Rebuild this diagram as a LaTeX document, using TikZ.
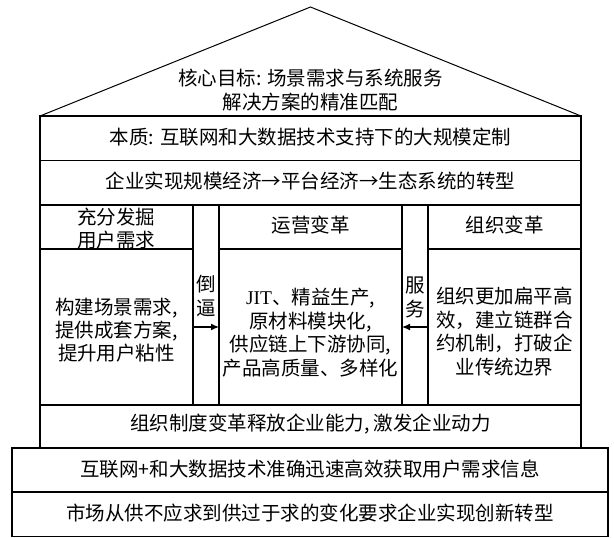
\documentclass[tikz,border=0pt]{standalone}
\usepackage{fontspec}
\setmainfont{Noto Sans CJK SC}
\newfontfamily\latf{Liberation Serif}
\usetikzlibrary{arrows.meta}
\begin{document}
\begin{tikzpicture}[x=1pt,y=-1pt]
\useasboundingbox (0,0) rectangle (614,538);
\tikzset{
  box/.style={draw, line width=1.2pt, rectangle, inner sep=0pt, outer sep=0pt, anchor=north west},
  txt/.style={font=\fontsize{19.5}{23.5}\selectfont, align=center, inner sep=0pt},
  arr/.style={line width=1.2pt, -{Latex[length=8pt,width=7pt]}},
  roofline/.style={line width=1pt, line join=miter}
}
% roof
\coordinate (rl) at (40,116);
\coordinate (rt) at (310.5,7);
\coordinate (rr) at (581,116);
\draw[roofline] (rl) -- (rt) -- (rr);
\node[txt, font=\fontsize{19.5}{24}\selectfont] (roof) at (310.5,90) {核心目标: 场景需求与系统服务\\解决方案的精准匹配};
% rows
\node[box, minimum width=541pt, minimum height=44.5pt] (ben) at (40,116) {};
\node[box, minimum width=541pt, minimum height=44.5pt] (qiye) at (40,160.5) {};
\node[box, minimum width=153pt, minimum height=44pt] (lhead) at (40,205) {};
\node[box, minimum width=153pt, minimum height=156pt] (lbody) at (40,249) {};
\node[box, minimum width=26pt, minimum height=200pt] (lstrip) at (193,205) {};
\node[box, minimum width=183pt, minimum height=44pt] (chead) at (219,205) {};
\node[box, minimum width=183pt, minimum height=156pt] (cbody) at (219,249) {};
\node[box, minimum width=26pt, minimum height=200pt] (rstrip) at (402,205) {};
\node[box, minimum width=153pt, minimum height=44pt] (rhead) at (428,205) {};
\node[box, minimum width=153pt, minimum height=156pt] (rbody) at (428,249) {};
\node[box, minimum width=541pt, minimum height=43pt] (zuzhi) at (40,405) {};
\node[box, minimum width=596pt, minimum height=44pt] (hulian) at (12,448) {};
\node[box, minimum width=596pt, minimum height=44.5pt] (shichang) at (12,492) {};
% texts
\node[txt] (tben) at (310.5,137.5) {本质: 互联网和大数据技术支持下的大规模定制};
\node[txt] (tqiye) at (310.5,181) {企业实现规模经济→平台经济→生态系统的转型};
\node[txt, font=\fontsize{19.5}{23}\selectfont] (tlhead) at (116.5,228.5) {充分发掘\\用户需求};
\node[txt] (tchead) at (310.5,225) {运营变革};
\node[txt] (trhead) at (504.5,225) {组织变革};
\node[txt, font=\fontsize{19.5}{23}\selectfont] (tlbody) at (116.5,330) {构建场景需求,\\提供成套方案,\\提升用户粘性};
\node[txt] (tcbody) at (310.5,332.5) {{\latf JIT}、精益生产,\\原材料模块化,\\供应链上下游协同,\\产品高质量、多样化};
\node[txt] (trbody) at (504.5,331.5) {组织更加扁平高\\效，建立链群合\\约机制，打破企\\业传统边界};
\node[txt, font=\fontsize{19.5}{24}\selectfont] (tlstrip) at (206,295.5) {倒\\逼};
\node[txt, font=\fontsize{19.5}{24}\selectfont] (trstrip) at (415,297) {服\\务};
\node[txt] (tzuzhi) at (310.5,424) {组织制度变革释放企业能力, 激发企业动力};
\node[txt] (thulian) at (310,469) {互联网+和大数据技术准确迅速高效获取用户需求信息};
\node[txt] (tshichang) at (310,513) {市场从供不应求到供过于求的变化要求企业实现创新转型};
% arrows
\coordinate (a1) at (193,327);
\coordinate (a2) at (219,327);
\coordinate (b1) at (428,327);
\coordinate (b2) at (402,327);
\draw[arr] (a1) -- (a2);
\draw[arr] (b1) -- (b2);
\end{tikzpicture}
\end{document}
